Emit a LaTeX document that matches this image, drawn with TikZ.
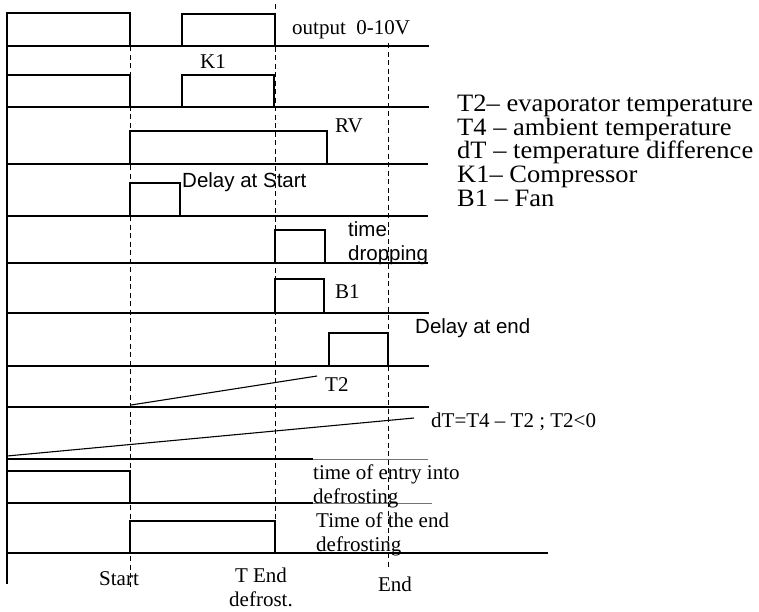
\documentclass[tikz,border=0pt]{standalone}
\usepackage{fontspec}
\setmainfont{Liberation Serif}
\newfontfamily\sansf{Liberation Sans}
\newfontfamily\legf[FakeStretch=1.06,Ligatures=TeX]{Liberation Serif}
\newcommand\mylegsetup{\legf\fontsize{25}{23.6}\selectfont\lineskiplimit-30pt\relax}
\begin{document}
\begin{tikzpicture}[x=1pt,y=-1pt,
  sig/.style={line width=1.1pt,black},
  base/.style={line width=1.1pt,black},
  faint/.style={line width=0.8pt,black!55},
  guide/.style={line width=1pt,black,dash pattern=on 5pt off 3.5pt},
  lab/.style={anchor=base west,inner sep=0pt,font=\fontsize{21}{24}\selectfont},
  clab/.style={anchor=base,inner sep=0pt,font=\fontsize{21}{24}\selectfont},
  slab/.style={anchor=base west,inner sep=0pt,font=\sansf\fontsize{20.5}{24}\selectfont},
  leg/.style={anchor=north west,inner sep=0pt,align=left,font=\mylegsetup}]
\useasboundingbox (0,0) rectangle (759,611);
% axis
\draw[base] (7,13) -- (7,584);
% baselines
\draw[base] (7,46) -- (429,46);
\draw[base] (7,107) -- (429,107);
\draw[base] (7,164) -- (428,164);
\draw[base] (7,216) -- (428,216);
\draw[base] (7,263) -- (428,263);
\draw[base] (7,313) -- (429,313);
\draw[base] (7,366) -- (429,366);
\draw[base] (7,407) -- (429,407);
\draw[base] (7,459) -- (313,459);
\draw[faint] (313,459) -- (428,459);
\draw[base] (7,503) -- (313,503);
\draw[faint] (313,503) -- (432,503);
\draw[base] (7,553) -- (548,553);
% guides
\draw[guide] (130,46) -- (130,588);
\draw[guide] (275,4) -- (275,553);
\draw[guide] (388,43) -- (388,568);
% pulses
\draw[sig] (7,46) -- (7,13) -- (130,13) -- (130,46);
\draw[sig] (182,46) -- (182,14) -- (275,14) -- (275,46);
\draw[sig] (7,107) -- (7,75) -- (130,75) -- (130,107);
\draw[sig] (182,107) -- (182,75) -- (274,75) -- (274,107);
\draw[sig] (130,164) -- (130,131) -- (327,131) -- (327,164);
\draw[sig] (130,216) -- (130,183) -- (180,183) -- (180,216);
\draw[sig] (275,263) -- (275,230) -- (325,230) -- (325,263);
\draw[sig] (275,313) -- (275,279) -- (324,279) -- (324,313);
\draw[sig] (329,366) -- (329,333) -- (388,333) -- (388,366);
\draw[sig] (131,405) -- (317,376);
\draw[sig] (7,456) -- (414,418);
\draw[sig] (7,503) -- (7,471) -- (130,471) -- (130,503);
\draw[sig] (130,553) -- (130,521) -- (275,521) -- (275,553);
% labels
\node[lab] (out) at (292,34.5) {output\ \ 0-10V};
\node[clab] (k1) at (213,68) {K1};
\node[lab] (rv) at (335,132) {RV};
\node[slab] (ds) at (182,187) {Delay at Start};
\node[slab] (td1) at (348,236) {time};
\node[slab] (td2) at (348,260) {dropping};
\node[lab] (b1) at (335,298) {B1};
\node[slab] (de) at (415,333) {Delay at end};
\node[lab] (t2) at (325,391) {T2};
\node[lab] (dt) at (431,427) {dT=T4 – T2 ; T2<0};
\node[lab] (te1) at (313,479) {time of entry into};
\node[lab] (te2) at (313,503) {defrosting};
\node[lab] (ee1) at (316,527) {Time of the end};
\node[lab] (ee2) at (316,551) {defrosting};
\node[clab] (st) at (119,585) {Start};
\node[clab] (tend1) at (261,582) {T End};
\node[clab] (tend2) at (261,606) {defrost.};
\node[clab] (en) at (395,591) {End};
% legend
\node[leg] (legend) at (457,95) {T2– evaporator temperature\\
T4 – ambient temperature\\
dT – temperature difference\\
K1– Compressor\\
B1 – Fan};
\end{tikzpicture}
\end{document}
